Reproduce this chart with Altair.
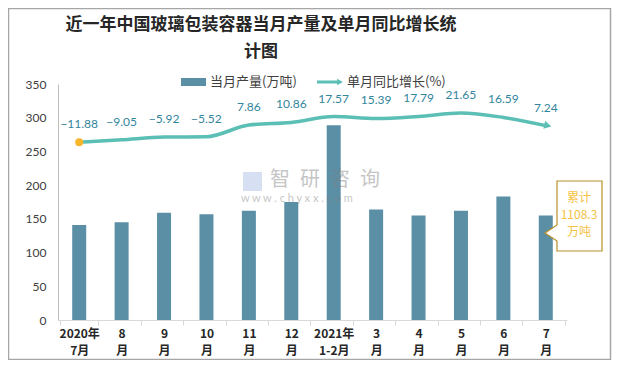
import altair as alt
import pandas as pd

categories = ["2020年|7月", "8|月", "9|月", "10|月", "11|月", "12|月",
              "2021年|1-2月", "3|月", "4|月", "5|月", "6|月", "7|月"]
production = [141, 145, 159, 157, 162, 175, 289, 164, 155, 162, 183, 155]
yoy = [-11.88, -9.05, -5.92, -5.52, 7.86, 10.86, 17.57, 15.39, 17.79, 21.65, 16.59, 7.24]

title_lines = ["近一年中国玻璃包装容器当月产量及单月同比增长统", "计图"]
legend_bar = "当月产量(万吨)"
legend_line = "单月同比增长(%)"
callout_lines = ["累计", "1108.3", "万吨"]

CJK = "Noto Sans CJK SC"
NUM = "Lato"
BAR_C = "#5b8fa6"
LINE_C = "#5bbfb5"
LABEL_C = "#31859c"

df = pd.DataFrame({"cat": categories, "prod": production, "yoy": yoy})
one = pd.DataFrame({"k": [0]})

xenc = alt.X("cat:N", sort=None, title=None,
             axis=alt.Axis(labelAngle=0, labelExpr="split(datum.label, '|')",
                           labelFont=CJK, labelFontSize=12, labelFontWeight="bold",
                           labelColor="#262626", labelLineHeight=17, labelPadding=3,
                           tickBand="extent", tickSize=5, tickColor="#d9d9d9",
                           domainColor="#d9d9d9", grid=False))

base = alt.Chart(df)

bars = base.mark_bar(color=BAR_C, size=14).encode(
    x=xenc,
    y=alt.Y("prod:Q", title=None,
            scale=alt.Scale(domain=[0, 350], nice=False),
            axis=alt.Axis(values=[0, 50, 100, 150, 200, 250, 300, 350], grid=False,
                          ticks=False, domainColor="#bfbfbf", labelPadding=12,
                          labelFont=NUM, labelFontSize=12, labelColor="#404040")),
)

yline = alt.Y("yoy:Q", scale=alt.Scale(domain=[-216, 55], nice=False), axis=None)

line = base.mark_line(color=LINE_C, strokeWidth=3.5, interpolate="monotone").encode(
    x=xenc, y=yline)
labels = base.mark_text(dy=-18, font=NUM, fontSize=12, color=LABEL_C).encode(
    x=xenc, y=yline, text=alt.Text("yoy:Q", format=".2f"))
dot = base.transform_filter(alt.datum.cat == categories[0]).mark_circle(
    size=64, color="#f7b52c", opacity=1).encode(x=xenc, y=yline)
arrow = base.transform_filter(alt.datum.cat == categories[-1]).mark_point(
    shape="triangle-right", filled=True, size=70, angle=13, color=LINE_C, opacity=1,
    xOffset=2).encode(x=xenc, y=yline)

line_layer = alt.layer(line, dot, arrow, labels)

# decorations (plot-area pixel coordinates)
title = alt.Chart(one).mark_text(text=title_lines, font=CJK, fontSize=17, fontWeight="bold",
                                 color="#262626", lineHeight=27, baseline="middle").encode(
    x=alt.value(203), y=alt.value(-59))

leg_sw = alt.Chart(one).mark_rect(color=BAR_C).encode(
    x=alt.value(123), x2=alt.value(148), y=alt.value(-6), y2=alt.value(2))
leg_t1 = alt.Chart(one).mark_text(text=legend_bar, font=CJK, fontSize=13, color="#404040",
                                  align="left", baseline="middle").encode(
    x=alt.value(152), y=alt.value(-2))
leg_ln = alt.Chart(one).mark_rule(color=LINE_C, strokeWidth=3).encode(
    x=alt.value(259), x2=alt.value(280), y=alt.value(-2))
leg_ar = alt.Chart(one).mark_point(shape="triangle-right", filled=True, size=45,
                                   color=LINE_C, opacity=1).encode(
    x=alt.value(282), y=alt.value(-2))
leg_t2 = alt.Chart(one).mark_text(text=legend_line, font=CJK, fontSize=13, color="#404040",
                                  align="left", baseline="middle").encode(
    x=alt.value(289), y=alt.value(-2))

wm_logo = alt.Chart(one).mark_rect(color="#b4c7e7", opacity=0.55).encode(
    x=alt.value(185), x2=alt.value(204), y=alt.value(88), y2=alt.value(107))
wm_text = alt.Chart(one).mark_text(text="智\u2002研\u2002咨\u2002询", font=CJK, fontSize=20,
                                   color="#7f7f7f", opacity=0.45, align="left",
                                   baseline="middle").encode(
    x=alt.value(212), y=alt.value(96))
wm_url = alt.Chart(one).mark_text(text="w w w . c h y x x . c o m", font=NUM, fontSize=11,
                                  color="#7f7f7f", opacity=0.45, align="left",
                                  baseline="middle").encode(
    x=alt.value(183), y=alt.value(115))

callout_box = alt.Chart(one).mark_point(
    shape="M-23,-35 L22,-35 L22,35 L-23,35 L-23,25 L-35,17 L-23,9 Z",
    size=4, filled=True, fill="white", stroke="#b8902a", strokeWidth=1.2, opacity=1).encode(
    x=alt.value(522), y=alt.value(132))
callout_text = alt.Chart(one).mark_text(text=callout_lines, font=CJK, fontSize=12,
                                        color="#f5c242", lineHeight=17,
                                        baseline="middle").encode(
    x=alt.value(521), y=alt.value(114))

border = alt.Chart(one).mark_rect(fill=None, stroke="#a6a6a6", strokeWidth=1.5).encode(
    x=alt.value(-49.5), x2=alt.value(552.5), y=alt.value(-75.5), y2=alt.value(275.5))

chart = alt.layer(
    border, bars, line_layer, wm_logo, wm_text, wm_url,
    title, leg_sw, leg_t1, leg_ln, leg_ar, leg_t2, callout_box, callout_text
).resolve_scale(y="independent").properties(
    width=509, height=236,
    autosize=alt.AutoSizeParams(type="none"),
    padding={"left": 50, "top": 76, "right": 45, "bottom": 40},
    background="white",
).configure_view(stroke=None)

chart.save("out.html", embed_options={"renderer": "svg", "actions": False})
